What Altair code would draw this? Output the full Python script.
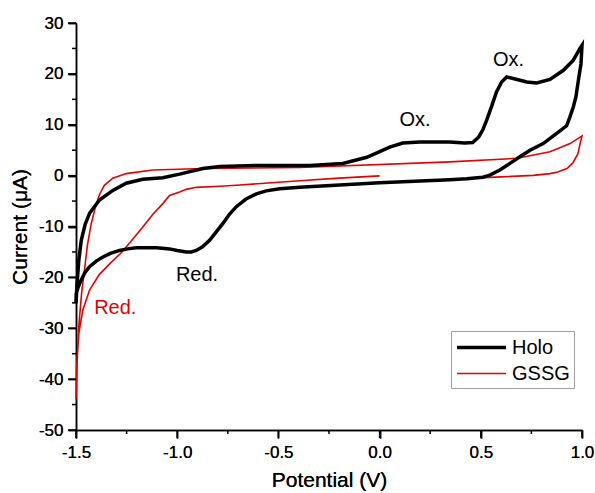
import altair as alt
import pandas as pd

# ---- data ----
holo_x = [-1.5, -1.496, -1.486, -1.474, -1.455, -1.433, -1.384, -1.318, -1.252, -1.17,
          -1.071, -0.988, -0.873, -0.79, -0.612, -0.345, -0.182, -0.063, 0.05, 0.114,
          0.199, 0.347, 0.42, 0.46, 0.49, 0.51, 0.53, 0.555, 0.578, 0.603,
          0.628, 0.66, 0.727, 0.776, 0.842, 0.908, 0.957, 0.99, 1.0,
          0.995, 0.982, 0.97, 0.957, 0.94, 0.924, 0.875, 0.808, 0.743, 0.693,
          0.644, 0.594, 0.545, 0.51, 0.43, 0.347, 0.0, -0.395, -0.494, -0.56,
          -0.609, -0.66, -0.708, -0.742, -0.774, -0.81, -0.84, -0.875, -0.906, -0.93,
          -0.955, -1.0, -1.038, -1.1, -1.17, -1.202, -1.245, -1.285, -1.33, -1.367,
          -1.40, -1.433, -1.455, -1.474, -1.49, -1.499, -1.5]
holo_y = [-25.1, -21.9, -16.6, -12.7, -9.6, -7.4, -4.8, -2.9, -1.5, -0.7,
          -0.4, 0.3, 1.4, 1.8, 2.0, 2.0, 2.4, 3.6, 5.6, 6.4,
          6.6, 6.6, 6.4, 6.5, 7.6, 9.0, 11.0, 13.8, 16.5, 18.4,
          19.4, 19.1, 18.4, 18.2, 18.9, 20.7, 22.7, 25.0, 25.6,
          22.0, 18.7, 15.5, 13.5, 11.5, 9.8, 8.3, 6.3, 5.0, 3.7,
          2.4, 1.1, 0.1, -0.3, -0.6, -0.8, -1.4, -2.3, -2.6, -3.0,
          -3.6, -4.6, -6.1, -7.6, -9.4, -11.2, -12.7, -14.0, -14.7, -15.0,
          -15.0, -14.7, -14.4, -14.2, -14.2, -14.2, -14.4, -14.7, -15.3, -16.0,
          -16.8, -17.9, -19.0, -20.5, -22.0, -23.2, -25.1]

gssg_x = [0.0, -0.2, -0.395, -0.55, -0.708, -0.79, -0.906, -0.955, -0.988, -1.038,
          -1.071, -1.12, -1.17, -1.23, -1.28, -1.33, -1.384, -1.433, -1.466, -1.486,
          -1.497, -1.5,
          -1.494, -1.485, -1.472, -1.458, -1.443, -1.425, -1.405, -1.385, -1.36, -1.318,
          -1.252, -1.12, -0.873, -0.395, 0.347, 0.679, 0.842, 0.941, 1.0,
          0.99, 0.98, 0.955, 0.926, 0.88, 0.842, 0.76, 0.679, 0.6, 0.51, 0.4]
gssg_y = [-0.05, -0.5, -1.0, -1.45, -1.9, -2.1, -2.3, -2.7, -3.2, -3.9,
          -5.5, -7.6, -10.1, -13.0, -15.3, -17.2, -19.4, -22.5, -26.4, -31.0,
          -37.6, -44.0,
          -36.0, -29.0, -23.0, -18.5, -13.5, -9.5, -6.3, -3.8, -1.9, -0.5,
          0.4, 1.1, 1.4, 1.6, 2.7, 3.4, 4.7, 6.3, 7.8,
          6.2, 4.3, 2.5, 1.4, 0.7, 0.4, 0.05, -0.1, -0.25, -0.4, -0.6]

series_names = ["Holo", "GSSG"]
series_colors = ["#000000", "#e60000"]
series_widths = [3.5, 1.6]

ann_x = [0.175, 0.637, -0.902, -1.306]
ann_y = [10.9, 22.8, -19.6, -26.0]
ann_text = ["Ox.", "Ox.", "Red.", "Red."]
ann_color = ["#000000", "#000000", "#000000", "#e60000"]

x_major_ticks = [-1.5, -1.0, -0.5, 0.0, 0.5, 1.0]
x_minor_ticks = [-1.25, -0.75, -0.25, 0.25, 0.75]
y_major_ticks = [-50, -40, -30, -20, -10, 0, 10, 20, 30]
y_minor_ticks = [-45, -35, -25, -15, -5, 5, 15, 25]

FONT = "Liberation Sans"
PLOT_W, PLOT_H = 506, 407

df = pd.DataFrame({
    "E": holo_x + gssg_x,
    "I": holo_y + gssg_y,
    "series": ["Holo"] * len(holo_x) + ["GSSG"] * len(gssg_x),
    "i": list(range(len(holo_x))) + list(range(len(gssg_x))),
})
ann = pd.DataFrame({"E": ann_x, "I": ann_y, "t": ann_text, "c": ann_color})
xt_major = pd.DataFrame({"v": x_major_ticks})
xt_minor = pd.DataFrame({"v": x_minor_ticks})
yt_major = pd.DataFrame({"v": y_major_ticks})
yt_minor = pd.DataFrame({"v": y_minor_ticks})

x_scale = alt.Scale(domain=[-1.5, 1.0], nice=False, zero=False)
y_scale = alt.Scale(domain=[-50, 30], nice=False, zero=False)

common_axis = dict(
    grid=False, domainColor="black", domainWidth=1.5, tickColor="black", tickWidth=1.5,
    labelColor="black", labelFont=FONT, labelFontSize=17, titleColor="black",
    titleFont=FONT, titleFontSize=21, titleFontWeight="normal",
)

x_axis = alt.Axis(
    orient="bottom",
    values=x_major_ticks,
    title="Potential (V)",
    labelExpr="(datum.value < -0.001 ? '-' : '') + format(abs(datum.value), '.1f')",
    tickSize=8,
    labelOverlap=False,
    labelFlush=False,
    labelPadding=6,
    titleBaseline="alphabetic",
    titleY=56,
    **common_axis,
)
y_axis = alt.Axis(
    orient="left",
    values=y_major_ticks,
    title="Current (μA)",
    labelExpr="(datum.value < 0 ? '-' : '') + format(abs(datum.value), 'd')",
    tickSize=8,
    labelOverlap=False,
    labelFlush=False,
    labelPadding=5,
    titleBaseline="alphabetic",
    titleX=-50,
    **common_axis,
)

legend_props = dict(
    title=None, orient="none", legendX=375, legendY=308, strokeColor="#a0a0a0",
    fillColor="white", padding=4, labelFont=FONT, labelFontSize=20, labelColor="black",
    symbolType="M-1,0H3.667", symbolSize=441, rowPadding=4, labelOffset=32,
)

color_enc = alt.Color("series:N", scale=alt.Scale(domain=series_names, range=series_colors),
                      legend=alt.Legend(**legend_props))
width_enc = alt.StrokeWidth("series:N", scale=alt.Scale(domain=series_names, range=series_widths),
                            legend=alt.Legend(**legend_props))

base = alt.Chart(df)
red_line = base.transform_filter(alt.datum.series == "GSSG").mark_line().encode(
    x=alt.X("E:Q", scale=x_scale, axis=x_axis),
    y=alt.Y("I:Q", scale=y_scale, axis=y_axis),
    color=color_enc, strokeWidth=width_enc, order=alt.Order("i:Q"))
black_line = base.transform_filter(alt.datum.series == "Holo").mark_line().encode(
    x=alt.X("E:Q", scale=x_scale, axis=x_axis),
    y=alt.Y("I:Q", scale=y_scale, axis=y_axis),
    color=color_enc, strokeWidth=width_enc, order=alt.Order("i:Q"))

labels = alt.Chart(ann).mark_text(font=FONT, fontSize=20, align="center", baseline="middle").encode(
    x=alt.X("E:Q", scale=x_scale, axis=None),
    y=alt.Y("I:Q", scale=y_scale, axis=None),
    text="t:N", color=alt.Color("c:N", scale=None))

# tick marks (major and minor) placed through the axis scales
tick_style = dict(color="black", strokeWidth=1.5)
x_major_rules = alt.Chart(xt_major).mark_rule(**tick_style).encode(
    x=alt.X("v:Q", scale=x_scale, axis=None), y=alt.value(PLOT_H), y2=alt.value(PLOT_H + 8))
x_minor_rules = alt.Chart(xt_minor).mark_rule(**tick_style).encode(
    x=alt.X("v:Q", scale=x_scale, axis=None), y=alt.value(PLOT_H), y2=alt.value(PLOT_H + 4))
y_major_rules = alt.Chart(yt_major).mark_rule(**tick_style).encode(
    y=alt.Y("v:Q", scale=y_scale, axis=None), x=alt.value(-8), x2=alt.value(0))
y_minor_rules = alt.Chart(yt_minor).mark_rule(**tick_style).encode(
    y=alt.Y("v:Q", scale=y_scale, axis=None), x=alt.value(-4), x2=alt.value(0))

chart = alt.layer(
    red_line, black_line, labels,
    x_major_rules, x_minor_rules, y_major_rules, y_minor_rules,
).resolve_axis(
    x="independent", y="independent"
).properties(
    width=PLOT_W, height=PLOT_H,
    padding={"left": 76, "top": 23, "right": 13, "bottom": 63},
    autosize=alt.AutoSizeParams(type="none"),
    view=alt.ViewBackground(stroke="transparent"),
)

chart.save("out.html", embed_options={"renderer": "svg", "actions": False})
